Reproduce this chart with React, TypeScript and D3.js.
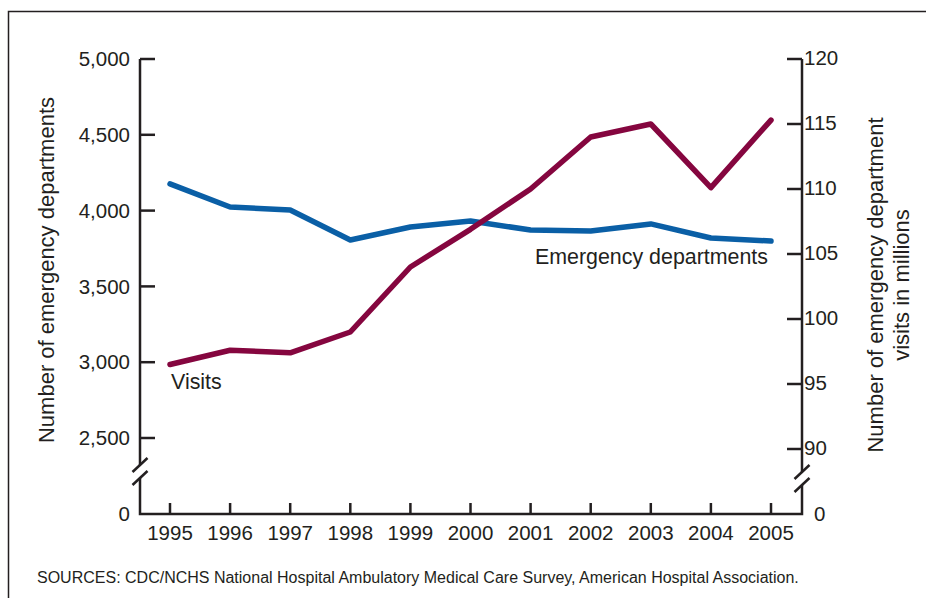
import { useEffect, useRef } from "react";
import * as d3 from "d3";

const years = [1995, 1996, 1997, 1998, 1999, 2000, 2001, 2002, 2003, 2004, 2005];
const departments = [4176, 4024, 4004, 3806, 3892, 3931, 3872, 3865, 3912, 3819, 3799];
const visits = [96.5, 97.6, 97.4, 99.0, 104.0, 106.9, 110.0, 114.0, 115.0, 110.1, 115.3];
const leftTicks = [2500, 3000, 3500, 4000, 4500, 5000];
const rightTicks = [90, 95, 100, 105, 110, 115, 120];

const WIDTH = 926;
const HEIGHT = 598;
const FONT = "'Liberation Sans', Arial, Helvetica, sans-serif";
const BLUE = "#0a5fa6";
const MAROON = "#85063f";
const INK = "#231f20";
const TICK_SIZE = 20.5;
const TITLE_SIZE = 22;

export default function App() {
  const svgRef = useRef<SVGSVGElement>(null);

  useEffect(() => {
    const svg = d3.select(svgRef.current);
    svg.selectAll("*").remove();
    svg.attr("width", WIDTH).attr("height", HEIGHT);

    svg.append("rect").attr("width", WIDTH).attr("height", HEIGHT).attr("fill", "#fff");

    // frame (runs off the right and bottom edges)
    svg.append("rect")
      .attr("x", 8.5)
      .attr("y", 11.5)
      .attr("width", 940)
      .attr("height", 600)
      .attr("fill", "none")
      .attr("stroke", INK)
      .attr("stroke-width", 1.5);

    const axisLeftX = 140;
    const axisRightX = 802;
    const baseY = 514;

    const x = d3.scaleLinear().domain([1995, 2005]).range([170, 771]);
    const yL = d3.scaleLinear().domain([2500, 5000]).range([438, 59]);
    const yR = d3.scaleLinear().domain([90, 120]).range([449, 59]);

    const axis = svg.append("g")
      .attr("stroke", INK)
      .attr("stroke-width", 2.5)
      .attr("fill", "none");

    // axes with breaks
    axis.append("path").attr("d", `M${axisLeftX},${yL(5000)}V465M${axisLeftX},478V${baseY}H${axisRightX}V485M${axisRightX},472V${yR(120)}`);
    [[axisLeftX, 465], [axisLeftX, 478], [axisRightX, 472], [axisRightX, 485]].forEach(([bx, by]) => {
      axis.append("line").attr("x1", bx - 7.5).attr("y1", by + 7).attr("x2", bx + 7.5).attr("y2", by - 7);
    });

    const label = (xx: number, yy: number, txt: string, anchor = "start", size = TICK_SIZE) =>
      svg.append("text")
        .attr("x", xx).attr("y", yy)
        .attr("text-anchor", anchor)
        .attr("font-family", FONT).attr("font-size", size).attr("fill", INK)
        .text(txt);

    // left ticks
    leftTicks.forEach((t) => {
      axis.append("line").attr("x1", axisLeftX).attr("x2", axisLeftX + 15).attr("y1", yL(t)).attr("y2", yL(t));
      label(130, yL(t), d3.format(",")(t), "end").attr("dy", "0.35em");
    });
    label(130, baseY, "0", "end").attr("dy", "0.35em");

    // right ticks
    rightTicks.forEach((t) => {
      axis.append("line").attr("x1", axisRightX - 15).attr("x2", axisRightX).attr("y1", yR(t)).attr("y2", yR(t));
      label(axisRightX + 2, yR(t), String(t)).attr("dy", "0.3em");
    });
    label(axisRightX + 12, baseY, "0").attr("dy", "0.35em");

    // x ticks
    years.forEach((yr) => {
      axis.append("line").attr("x1", x(yr)).attr("x2", x(yr)).attr("y1", baseY).attr("y2", baseY - 11);
      label(x(yr), 540, String(yr), "middle");
    });

    // axis titles
    svg.append("text")
      .attr("transform", `translate(54,270) rotate(-90)`)
      .attr("text-anchor", "middle")
      .attr("font-family", FONT).attr("font-size", TITLE_SIZE).attr("fill", INK)
      .text("Number of emergency departments");
    const rt = svg.append("text")
      .attr("transform", `translate(883,285) rotate(-90)`)
      .attr("text-anchor", "middle")
      .attr("font-family", FONT).attr("font-size", TITLE_SIZE).attr("fill", INK);
    rt.append("tspan").attr("x", 0).attr("y", 0).text("Number of emergency department");
    rt.append("tspan").attr("x", 0).attr("y", 26).text("visits in millions");

    // lines
    const lineL = d3.line<number>().x((_, i) => x(years[i])).y((d) => yL(d));
    const lineR = d3.line<number>().x((_, i) => x(years[i])).y((d) => yR(d));

    svg.append("path")
      .datum(departments)
      .attr("d", lineL)
      .attr("fill", "none")
      .attr("stroke", BLUE)
      .attr("stroke-width", 5.5)
      .attr("stroke-linecap", "round")
      .attr("stroke-linejoin", "round");

    svg.append("path")
      .datum(visits)
      .attr("d", lineR)
      .attr("fill", "none")
      .attr("stroke", MAROON)
      .attr("stroke-width", 5.5)
      .attr("stroke-linecap", "round")
      .attr("stroke-linejoin", "round");

    // series labels
    label(171, 389, "Visits", "start", 21.4);
    label(768, 264, "Emergency departments", "end", 21.4);

    // sources
    label(37, 583, "SOURCES: CDC/NCHS National Hospital Ambulatory Medical Care Survey, American Hospital Association.", "start", 16);
  }, []);

  return <svg ref={svgRef} style={{ position: "absolute", left: 0, top: 0, display: "block" }} />;
}
